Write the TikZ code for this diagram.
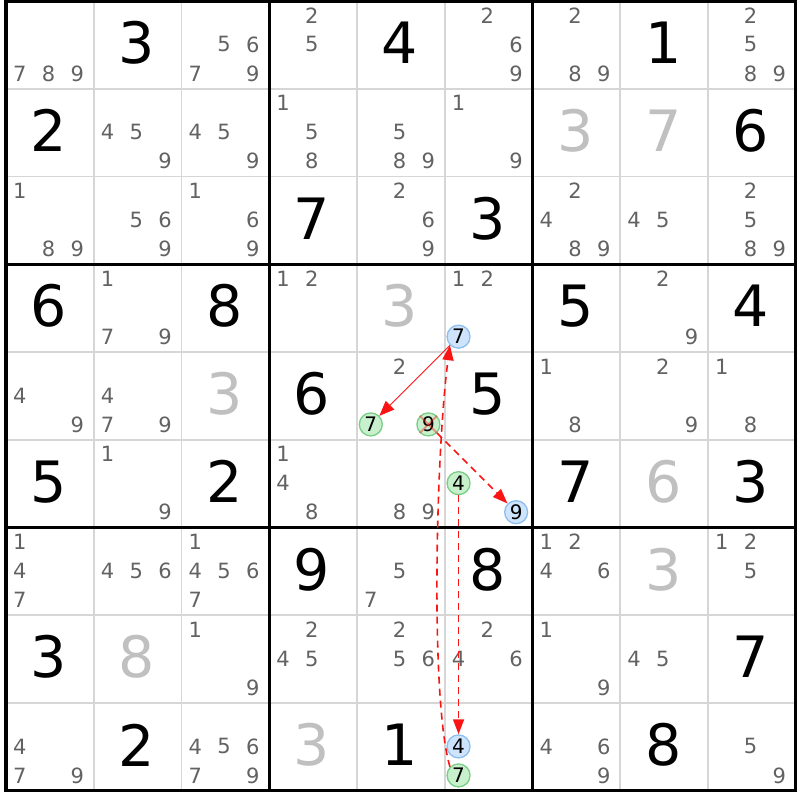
\documentclass[tikz,border=0pt]{standalone}
\usepackage{fontspec}
\setmainfont{DejaVu Sans}
\usetikzlibrary{arrows.meta}
\definecolor{candgray}{RGB}{98,98,98}
\definecolor{solvgray}{RGB}{192,192,192}
\definecolor{thingray}{RGB}{214,214,214}
\definecolor{bluefill}{RGB}{206,228,252}
\definecolor{blueline}{RGB}{140,190,240}
\definecolor{greenfill}{RGB}{200,240,204}
\definecolor{greenline}{RGB}{120,205,135}
\definecolor{chainred}{RGB}{250,20,20}
\tikzset{
  candtext/.style={inner sep=0pt,text=candgray,font=\fontsize{21}{21}\selectfont},
  giventext/.style={inner sep=0pt,text=black,font=\fontsize{57}{57}\selectfont},
  solvedtext/.style={inner sep=0pt,text=solvgray,font=\fontsize{57}{57}\selectfont},
  bluecand/.style={circle,draw=blueline,fill=bluefill,line width=1.3pt,minimum size=23pt,inner sep=0pt,text=black,font=\fontsize{20}{20}\selectfont},
  greencand/.style={circle,draw=greenline,fill=greenfill,line width=1.3pt,minimum size=23pt,inner sep=0pt,text=black,font=\fontsize{20}{20}\selectfont},
  thinline/.style={draw=thingray,line width=1.8pt},
  thickline/.style={draw=black,line width=3.2pt},
  solidlink/.style={draw=chainred,line width=0.9pt,-{Triangle[length=15pt,width=12pt]}},
  dashlink/.style={draw=chainred,line width=1.6pt,dash pattern=on 7pt off 5pt,-{Triangle[length=15pt,width=11pt]}},
  elimx/.style={draw=chainred,line width=2pt,opacity=0.4}
}
\newcommand\mycand[3]{%
  \pgfmathsetmacro\cx{6+(#2-1)*87.75+42.6+(mod(#3-1,3)-1)*28.8}%
  \pgfmathsetmacro\cy{1+(#1-1)*87.75+43.4+(floor((#3-1)/3)-1)*29}%
  \node[candtext] (k#1#2#3) at (\cx,\cy) {#3};}
\newcommand\mycands[3]{\foreach \dd in {#3}{\mycand{#1}{#2}{\dd}}}
\newcommand\myhl[4]{%
  \pgfmathsetmacro\cx{6+(#2-1)*87.75+42.6+(mod(#3-1,3)-1)*28.8}%
  \pgfmathsetmacro\cy{1+(#1-1)*87.75+43.4+(floor((#3-1)/3)-1)*29}%
  \node[#4] (h#1#2#3) at (\cx,\cy) {#3};}
\newcommand\mygiven[3]{%
  \pgfmathsetmacro\cx{6+(#2-0.5)*87.75-1}%
  \pgfmathsetmacro\cy{1+(#1-0.5)*87.75-2}%
  \node[giventext] (g#1#2) at (\cx,\cy) {#3};}
\newcommand\mysolved[3]{%
  \pgfmathsetmacro\cx{6+(#2-0.5)*87.75-1}%
  \pgfmathsetmacro\cy{1+(#1-0.5)*87.75-2}%
  \node[solvedtext] (g#1#2) at (\cx,\cy) {#3};}
\begin{document}
\begin{tikzpicture}[x=1pt,y=-1pt]
\useasboundingbox[fill=white] (0,0) rectangle (800,800);
% thin grid lines
\foreach \i in {1,2,4,5,7,8}{
  \draw[thinline] (6+\i*87.75,1) -- (6+\i*87.75,790.75);
  \draw[thinline] (6,1+\i*87.75) -- (795.75,1+\i*87.75);
}
% thick grid lines
\foreach \i in {3,6}{
  \draw[thickline] (6+\i*87.75,1) -- (6+\i*87.75,790.75);
  \draw[thickline] (6,1+\i*87.75) -- (795.75,1+\i*87.75);
}
\draw[thickline] (6,1) rectangle (795.75,790.75);
% row 1
\mycands{1}{1}{7,8,9} \mygiven{1}{2}{3} \mycands{1}{3}{5,6,7,9}
\mycands{1}{4}{2,5} \mygiven{1}{5}{4} \mycands{1}{6}{2,6,9}
\mycands{1}{7}{2,8,9} \mygiven{1}{8}{1} \mycands{1}{9}{2,5,8,9}
% row 2
\mygiven{2}{1}{2} \mycands{2}{2}{4,5,9} \mycands{2}{3}{4,5,9}
\mycands{2}{4}{1,5,8} \mycands{2}{5}{5,8,9} \mycands{2}{6}{1,9}
\mysolved{2}{7}{3} \mysolved{2}{8}{7} \mygiven{2}{9}{6}
% row 3
\mycands{3}{1}{1,8,9} \mycands{3}{2}{5,6,9} \mycands{3}{3}{1,6,9}
\mygiven{3}{4}{7} \mycands{3}{5}{2,6,9} \mygiven{3}{6}{3}
\mycands{3}{7}{2,4,8,9} \mycands{3}{8}{4,5} \mycands{3}{9}{2,5,8,9}
% row 4
\mygiven{4}{1}{6} \mycands{4}{2}{1,7,9} \mygiven{4}{3}{8}
\mycands{4}{4}{1,2} \mysolved{4}{5}{3} \mycands{4}{6}{1,2}
\mygiven{4}{7}{5} \mycands{4}{8}{2,9} \mygiven{4}{9}{4}
% row 5
\mycands{5}{1}{4,9} \mycands{5}{2}{4,7,9} \mysolved{5}{3}{3}
\mygiven{5}{4}{6} \mycands{5}{5}{2} \mygiven{5}{6}{5}
\mycands{5}{7}{1,8} \mycands{5}{8}{2,9} \mycands{5}{9}{1,8}
% row 6
\mygiven{6}{1}{5} \mycands{6}{2}{1,9} \mygiven{6}{3}{2}
\mycands{6}{4}{1,4,8} \mycands{6}{5}{8,9}
\mygiven{6}{7}{7} \mysolved{6}{8}{6} \mygiven{6}{9}{3}
% row 7
\mycands{7}{1}{1,4,7} \mycands{7}{2}{4,5,6} \mycands{7}{3}{1,4,5,6,7}
\mygiven{7}{4}{9} \mycands{7}{5}{5,7} \mygiven{7}{6}{8}
\mycands{7}{7}{1,2,4,6} \mysolved{7}{8}{3} \mycands{7}{9}{1,2,5}
% row 8
\mygiven{8}{1}{3} \mysolved{8}{2}{8} \mycands{8}{3}{1,9}
\mycands{8}{4}{2,4,5} \mycands{8}{5}{2,5,6} \mycands{8}{6}{2,4,6}
\mycands{8}{7}{1,9} \mycands{8}{8}{4,5} \mygiven{8}{9}{7}
% row 9
\mycands{9}{1}{4,7,9} \mygiven{9}{2}{2} \mycands{9}{3}{4,5,6,7,9}
\mysolved{9}{4}{3} \mygiven{9}{5}{1}
\mycands{9}{7}{4,6,9} \mygiven{9}{8}{8} \mycands{9}{9}{5,9}
% highlighted candidates
\myhl{4}{6}{7}{bluecand}
\myhl{5}{5}{7}{greencand}
\myhl{5}{5}{9}{greencand}
\myhl{6}{6}{4}{greencand}
\myhl{6}{6}{9}{bluecand}
\myhl{9}{6}{4}{bluecand}
\myhl{9}{6}{7}{greencand}
% elimination cross
\draw[elimx] (h559.north west) -- (h559.south east);
\draw[elimx] (h559.north east) -- (h559.south west);
% chain links
\draw[solidlink] (h467) -- (h557);
\draw[dashlink] (h559) -- (h669);
\draw[dashlink] (h664) -- (h964);
\draw[dashlink] (h967.north west) .. controls +(-20,-67) and +(-14,105) .. (h467.south west);
\end{tikzpicture}
\end{document}
